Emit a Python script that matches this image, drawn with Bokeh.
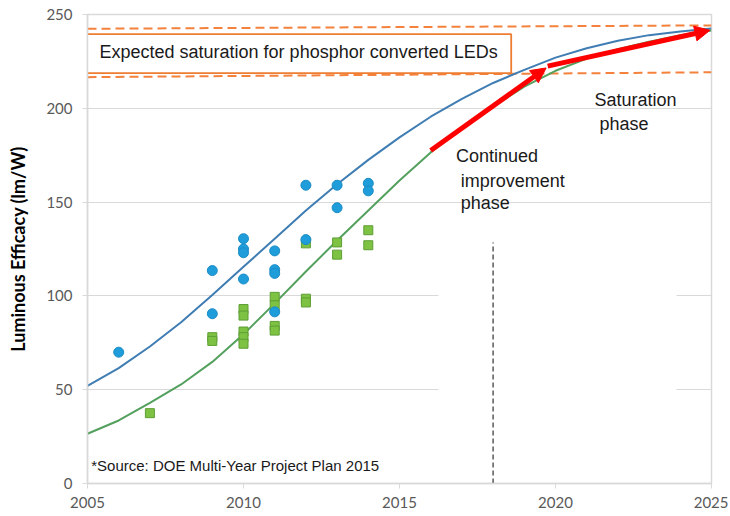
from bokeh.plotting import figure
from bokeh.models import Range1d, FixedTicker, Arrow, NormalHead
from bokeh.core.properties import value
from bokeh.embed import file_html
from bokeh.resources import INLINE

# ---------------- data ----------------
blue_x = [2006, 2009, 2009, 2010, 2010, 2010, 2010, 2011, 2011, 2011, 2011, 2012, 2012, 2013, 2013, 2014, 2014]
blue_y = [70, 113.5, 90.5, 130.5, 125, 123, 109, 124, 114, 112, 91.5, 159, 130, 159, 147, 160, 156]

green_x = [2007, 2009, 2009, 2010, 2010, 2010, 2010, 2010, 2011, 2011, 2011, 2011, 2012, 2012, 2012, 2013, 2013, 2014, 2014]
green_y = [37.5, 78, 76, 93, 89.5, 81, 78, 74.5, 99.5, 95, 84, 81.5, 128, 98.5, 96.5, 128.5, 122, 135, 127]

curve_years = [2005, 2006, 2007, 2008, 2009, 2010, 2011, 2012, 2013, 2014, 2015,
               2016, 2017, 2018, 2019, 2020, 2021, 2022, 2023, 2024, 2025]
blue_curve = [52, 61.5, 73, 86, 100.5, 115.5, 130.5, 145.5, 159.5, 172.5, 184.5,
              195.5, 205, 213.5, 220.5, 227, 232, 236, 239, 241, 242.5]
green_curve = [26.5, 33.6, 43, 52.8, 64.8, 79.5, 96, 113, 129.5, 145.5, 161.5,
               176.5, 189.5, 201, 211.5, 220, 226.5, 231.5, 235.5, 239, 241.5]

x_ticks = [2005, 2010, 2015, 2020, 2025]
y_ticks = [0, 50, 100, 150, 200, 250]

# saturation band (left/right ends of the dashed lines)
band_x0, band_x1 = [2005, 2005], [2025, 2025]
band_y0, band_y1 = [242.4, 216.6], [244.2, 219.2]

# red arrows
arrow1 = (2016.0, 177.5, 2019.7, 221.5)
arrow2 = (2019.75, 222.5, 2024.95, 241.6)

# ---------------- figure ----------------
p = figure(width=728, height=514, output_backend="svg", toolbar_location=None,
           x_range=Range1d(2005, 2025), y_range=Range1d(0, 250),
           min_border_left=87, min_border_right=17, min_border_top=14, min_border_bottom=31)

p.background_fill_color = "white"
p.border_fill_color = "white"
p.outline_line_color = "#d9d9d9"
p.outline_line_width = 1.5

p.xgrid.visible = False
p.ygrid.grid_line_color = "#d9d9d9"
p.ygrid.grid_line_width = 1
p.yaxis.ticker = FixedTicker(ticks=y_ticks)
p.xaxis.ticker = FixedTicker(ticks=x_ticks)

for ax in (p.xaxis, p.yaxis):
    ax.axis_line_color = "#d9d9d9"
    ax.axis_line_width = 1.5
    ax.major_tick_line_color = "#d9d9d9"
    ax.minor_tick_line_color = None
    ax.major_tick_in = 0
    ax.major_label_text_font = "Lato"
    ax.major_label_text_font_size = "15px"
    ax.major_label_text_color = "#595959"

p.yaxis.major_tick_out = 5
p.yaxis.major_label_standoff = 10
p.xaxis.major_tick_out = 5
p.xaxis.major_label_standoff = 8

p.yaxis.axis_label = "Luminous Efficacy (lm/W)"
p.yaxis.axis_label_text_font = "Lato"
p.yaxis.axis_label_text_font_style = "bold"
p.yaxis.axis_label_text_font_size = "18px"
p.yaxis.axis_label_text_color = "#000000"
p.yaxis.axis_label_standoff = 14

# white patch hiding lower-right grid lines
p.quad(left=[2016.25], right=[2023.88], bottom=[2], top=[125],
       fill_color="white", line_color=None)

# saturation band dashed lines
p.segment(x0=band_x0, y0=band_y0, x1=band_x1, y1=band_y1,
          line_color="#f4823c", line_width=2, line_dash="9 5")

# orange box with label
p.quad(left=[2004.9], right=[2018.58], bottom=[218.8], top=[239.5],
       fill_color="white", line_color="#ed7d31", line_width=1.8)
p.text(x=[2005.385], y=[229.9], text=["Expected saturation for phosphor converted LEDs"],
       text_font=value("Liberation Sans"), text_font_size="18px", text_color="#1a1a1a",
       text_baseline="middle", text_align="left")

# curves
p.line(curve_years, blue_curve, line_color="#3f7db3", line_width=2)
p.line(curve_years, green_curve, line_color="#54a05e", line_width=2)

# data points
p.scatter(green_x, green_y, marker="square", size=9,
          fill_color="#7dc242", line_color="#5e9e35", line_width=1)
p.scatter(blue_x, blue_y, marker="circle", size=10,
          fill_color="#1f9ddb", line_color="#1a8cc6", line_width=1)

# vertical dashed line at 2018
p.segment(x0=[2018], y0=[0], x1=[2018], y1=[128.5],
          line_color="#595959", line_width=1.5, line_dash="5 3")

# phase texts
p.text(x=[2016.81, 2016.96, 2016.96], y=[174.8, 161.5, 149.4],
       text=["Continued", "improvement", "phase"],
       text_font=value("Liberation Sans"), text_font_size="18px", text_color="#1a1a1a",
       text_baseline="middle", text_align="left")
p.text(x=[2021.25, 2021.41], y=[204.2, 191.4], text=["Saturation", "phase"],
       text_font=value("Liberation Sans"), text_font_size="18px", text_color="#1a1a1a",
       text_baseline="middle", text_align="left")

# source note
p.text(x=[2005.12], y=[9.6], text=["*Source: DOE Multi-Year Project Plan 2015"],
       text_font=value("Liberation Sans"), text_font_size="15px", text_color="#1a1a1a",
       text_baseline="middle", text_align="left")

# red arrows
for (xs, ys, xe, ye) in (arrow1, arrow2):
    p.add_layout(Arrow(x_start=xs, y_start=ys, x_end=xe, y_end=ye,
                       line_color="#ff0000", line_width=5,
                       end=NormalHead(size=15, fill_color="#ff0000", line_color="#ff0000")))

open("out.html", "w").write(file_html(p, INLINE))
